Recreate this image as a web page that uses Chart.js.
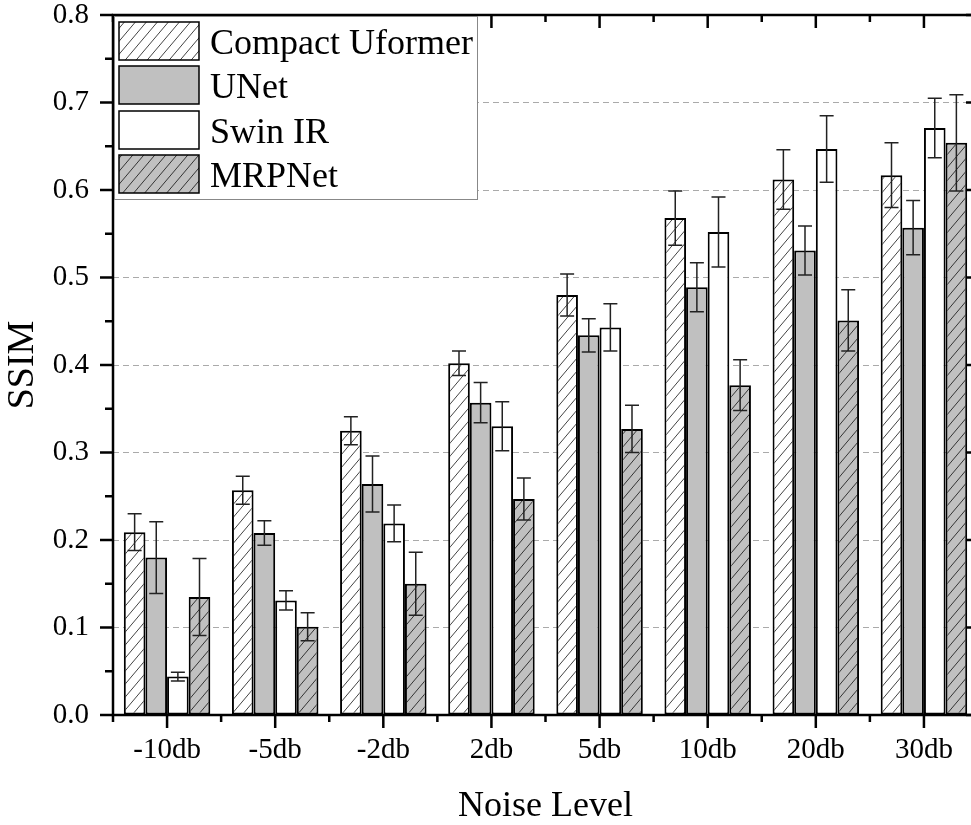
<!DOCTYPE html>
<html>
<head>
<meta charset="utf-8">
<script src="https://cdn.jsdelivr.net/npm/chart.js@4.4.1/dist/chart.umd.min.js"></script>
<style>
  html, body { margin: 0; padding: 0; overflow: hidden; background: #fff; }
  canvas { display: block; }
</style>
</head>
<body>
<canvas id="ssimChart" width="990" height="825"></canvas>
<script>
const categories = ['-10db', '-5db', '-2db', '2db', '5db', '10db', '20db', '30db'];

const compactUformer    = [0.209, 0.257, 0.325, 0.402, 0.480, 0.568, 0.612, 0.617];
const compactUformerErr = [0.021, 0.016, 0.016, 0.014, 0.024, 0.031, 0.034, 0.037];
const unet              = [0.180, 0.208, 0.264, 0.357, 0.434, 0.489, 0.531, 0.557];
const unetErr           = [0.041, 0.014, 0.032, 0.023, 0.019, 0.028, 0.028, 0.031];
const swinIR            = [0.044, 0.131, 0.219, 0.330, 0.443, 0.552, 0.647, 0.671];
const swinIRErr         = [0.005, 0.011, 0.021, 0.028, 0.027, 0.040, 0.038, 0.034];
const mrpNet            = [0.135, 0.101, 0.150, 0.247, 0.327, 0.377, 0.451, 0.654];
const mrpNetErr         = [0.044, 0.016, 0.036, 0.024, 0.027, 0.029, 0.035, 0.055];

const yTicks = [0, 0.1, 0.2, 0.3, 0.4, 0.5, 0.6, 0.7, 0.8];

const FONT = "'Liberation Serif', 'Times New Roman', serif";
const GRAY = '#c0c0c0';

// diagonal "/" hatch used by Compact Uformer and MRPNet
function makeHatch(bg, ink) {
  const w = 11, h = 13;
  const c = document.createElement('canvas');
  c.width = w; c.height = h;
  const g = c.getContext('2d');
  g.fillStyle = bg;
  g.fillRect(0, 0, w, h);
  g.strokeStyle = ink;
  g.lineWidth = 1;
  g.beginPath();
  for (const dx of [-w, 0, w]) {
    g.moveTo(dx - w, 2 * h);
    g.lineTo(dx + 2 * w, -h);
  }
  g.stroke();
  return g.createPattern(c, 'repeat');
}

const hatchWhite = makeHatch('#ffffff', '#444');
const hatchGray = makeHatch(GRAY, '#333');

const datasets = [
  { label: 'Compact Uformer', data: compactUformer, errors: compactUformerErr, backgroundColor: hatchWhite },
  { label: 'UNet', data: unet, errors: unetErr, backgroundColor: GRAY },
  { label: 'Swin IR', data: swinIR, errors: swinIRErr, backgroundColor: '#ffffff' },
  { label: 'MRPNet', data: mrpNet, errors: mrpNetErr, backgroundColor: hatchGray },
].map(d => ({
  ...d,
  borderColor: '#000',
  borderWidth: 2,
  borderSkipped: false,
  barPercentage: 1,
  categoryPercentage: 0.8,
}));

const frame = {
  id: 'frame',
  afterDatasetsDraw(chart) {
    const ctx = chart.ctx;
    const y = chart.scales.y;
    ctx.save();
    ctx.strokeStyle = '#222';
    ctx.lineWidth = 1.5;
    chart.data.datasets.forEach((ds, d) => {
      chart.getDatasetMeta(d).data.forEach((bar, i) => {
        const v = ds.data[i], e = ds.errors[i];
        const yt = y.getPixelForValue(v + e);
        const yb = y.getPixelForValue(v - e);
        ctx.beginPath();
        ctx.moveTo(bar.x, yt); ctx.lineTo(bar.x, yb);
        ctx.moveTo(bar.x - 7, yt); ctx.lineTo(bar.x + 7, yt);
        ctx.moveTo(bar.x - 7, yb); ctx.lineTo(bar.x + 7, yb);
        ctx.stroke();
      });
    });
    ctx.restore();
  },
  afterDraw(chart) {
    const ctx = chart.ctx;
    const { left, right, top, bottom } = chart.chartArea;
    const x = chart.scales.x, y = chart.scales.y;
    ctx.save();
    ctx.strokeStyle = '#000';
    ctx.lineWidth = 2.5;
    ctx.strokeRect(left, top, right - left, bottom - top);

    ctx.beginPath();
    // y ticks: outward on the left, inward on the right
    yTicks.forEach((v, k) => {
      const py = y.getPixelForValue(v);
      ctx.moveTo(left - 13, py); ctx.lineTo(left, py);
      ctx.moveTo(right, py); ctx.lineTo(right - 12, py);
      if (k < yTicks.length - 1) {
        const pm = y.getPixelForValue(v + 0.05);
        ctx.moveTo(left - 8, pm); ctx.lineTo(left, pm);
        ctx.moveTo(right, pm); ctx.lineTo(right - 7, pm);
      }
    });
    // x ticks: outward at the bottom, inward at the top
    const step = (right - left) / categories.length;
    categories.forEach((c, i) => {
      const px = x.getPixelForValue(i);
      ctx.moveTo(px, bottom); ctx.lineTo(px, bottom + 13);
      ctx.moveTo(px, top); ctx.lineTo(px, top + 13);
      const pb = left + step * i;
      ctx.moveTo(pb, bottom); ctx.lineTo(pb, bottom + 7);
      ctx.moveTo(pb, top); ctx.lineTo(pb, top + 7);
    });
    ctx.stroke();

    // legend box in the upper left corner
    ctx.fillStyle = '#fff';
    ctx.fillRect(left + 1, top + 1, 364, 183);
    ctx.strokeStyle = '#888';
    ctx.lineWidth = 1;
    ctx.strokeRect(left + 1.5, top + 1.5, 363, 183);
    const rows = [22, 66, 111, 155];
    ctx.font = '36px ' + FONT;
    ctx.textBaseline = 'alphabetic';
    ctx.textAlign = 'left';
    chart.data.datasets.forEach((ds, d) => {
      const ty = rows[d];
      ctx.fillStyle = ds.backgroundColor;
      ctx.fillRect(119, ty, 80, 38);
      ctx.strokeStyle = '#000';
      ctx.lineWidth = 1.5;
      ctx.strokeRect(119, ty, 80, 38);
      ctx.fillStyle = '#000';
      ctx.fillText(ds.label, 210, ty + 32);
    });
    ctx.restore();
  }
};

new Chart(document.getElementById('ssimChart').getContext('2d'), {
  type: 'bar',
  data: { labels: categories, datasets },
  options: {
    responsive: false,
    animation: false,
    layout: { padding: { top: 15, right: 12, left: 0, bottom: 0 } },
    plugins: { legend: { display: false }, tooltip: { enabled: false } },
    scales: {
      x: {
        grid: { display: false, drawTicks: false },
        border: { display: false },
        ticks: { color: '#000', font: { family: FONT, size: 29 }, padding: 18 },
        title: {
          display: true, text: 'Noise Level', color: '#000',
          font: { family: FONT, size: 36, lineHeight: 1.0 }, padding: 0
        },
        afterFit(s) { s.height = 110; s.paddingLeft = 0; s.paddingRight = 0; }
      },
      y: {
        min: 0, max: 0.8,
        afterBuildTicks(s) { s.ticks = yTicks.map(v => ({ value: v })); },
        ticks: {
          color: '#000', font: { family: FONT, size: 29 }, padding: 24,
          callback: v => v.toFixed(1)
        },
        grid: {
          drawTicks: false,
          lineWidth: 1,
          color: c => (c.tick && c.tick.value > 0.05 && c.tick.value < 0.75) ? '#aaaaaa' : 'rgba(0,0,0,0)'
        },
        border: { display: false, dash: [6, 4] },
        title: {
          display: true, text: 'SSIM', color: '#000',
          font: { family: FONT, size: 38, lineHeight: 1.2 }, padding: 0
        },
        afterFit(s) { s.width = 113; s.paddingTop = 0; s.paddingBottom = 0; }
      }
    }
  },
  plugins: [frame]
});
</script>
</body>
</html>
